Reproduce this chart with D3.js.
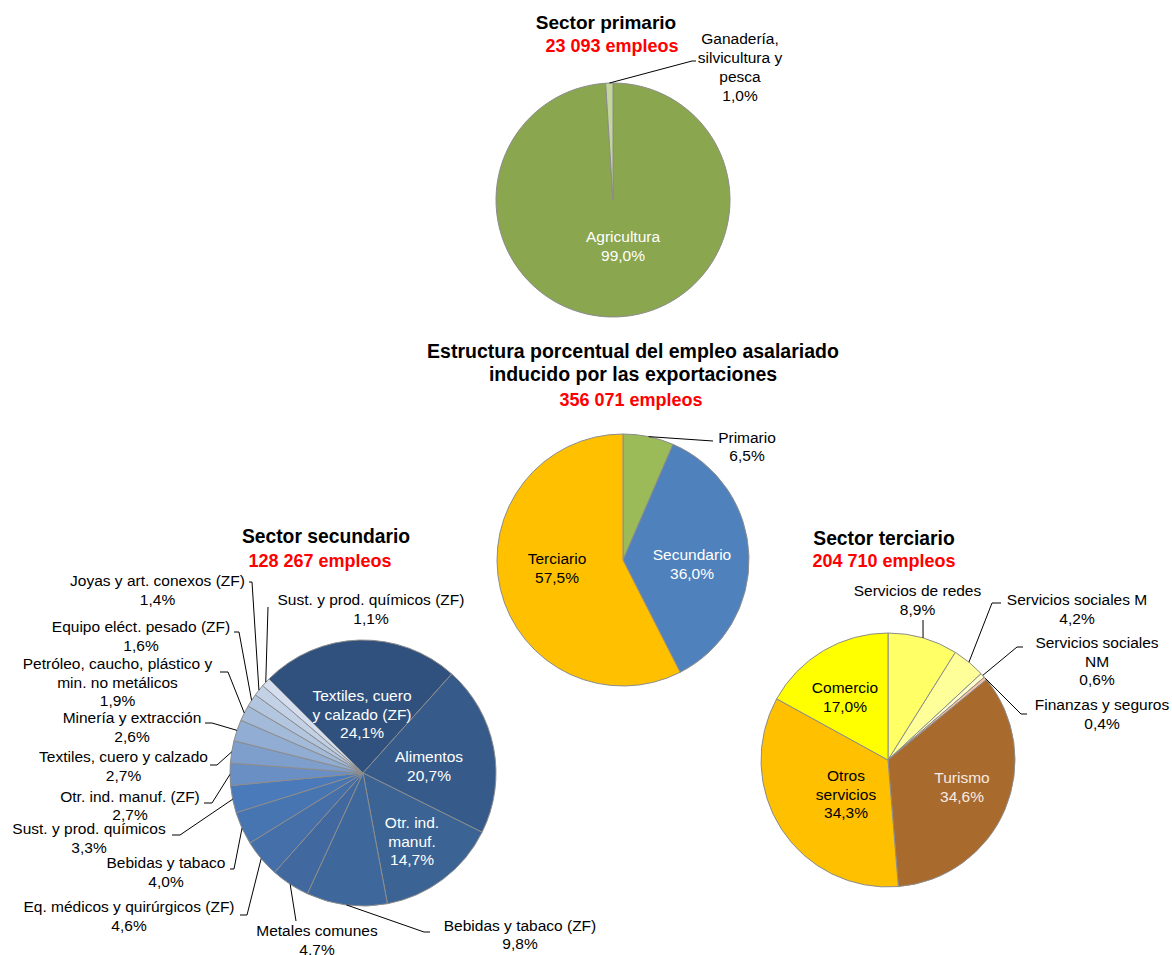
<!DOCTYPE html>
<html><head><meta charset="utf-8">
<script src="https://cdn.jsdelivr.net/npm/d3@7"></script>
<style>
body{margin:0;background:#fff}
svg{display:block}
text{font-family:"Liberation Sans",Arial,sans-serif}
</style>
</head><body>
<svg id="chart" width="1172" height="955"></svg>
<script>
// ---------------- DATA ----------------
const primaryCategories = ["Agricultura", "Ganadería, silvicultura y pesca"];
const primaryValues = [99.0, 1.0];
const primaryLabelLines = [["Agricultura"], ["Ganadería,", "silvicultura  y", "pesca"]];

const totalCategories = ["Primario", "Secundario", "Terciario"];
const totalValues = [6.5, 36.0, 57.5];
const totalLabelLines = [["Primario"], ["Secundario"], ["Terciario"]];

const secondaryCategories = [
  "Textiles, cuero y calzado (ZF)", "Alimentos", "Otr. ind. manuf.", "Bebidas y tabaco (ZF)",
  "Metales comunes", "Eq. médicos y quirúrgicos (ZF)", "Bebidas y tabaco", "Sust. y prod. químicos",
  "Otr. ind. manuf. (ZF)", "Textiles, cuero y calzado", "Minería y extracción",
  "Petróleo, caucho, plástico y min. no metálicos", "Equipo eléct. pesado (ZF)",
  "Joyas y art. conexos (ZF)", "Sust. y prod. químicos (ZF)"];
const secondaryValues = [24.1, 20.7, 14.7, 9.8, 4.7, 4.6, 4.0, 3.3, 2.7, 2.7, 2.6, 1.9, 1.6, 1.4, 1.1];
const secondaryLabelLines = [
  ["Textiles, cuero", "y calzado (ZF)"], ["Alimentos"], ["Otr. ind.", "manuf."], ["Bebidas  y tabaco (ZF)"],
  ["Metales comunes"], ["Eq. médicos y quirúrgicos  (ZF)"], ["Bebidas  y tabaco"], ["Sust. y prod.  químicos"],
  ["Otr. ind. manuf.  (ZF)"], ["Textiles, cuero y calzado"], ["Minería  y extracción"],
  ["Petróleo, caucho, plástico y", "min. no metálicos"], ["Equipo eléct. pesado (ZF)"],
  ["Joyas  y art. conexos (ZF)"], ["Sust. y prod.  químicos  (ZF)"]];

const tertiaryCategories = ["Servicios de redes", "Servicios sociales M", "Servicios sociales NM",
  "Finanzas y seguros", "Turismo", "Otros servicios", "Comercio"];
const tertiaryValues = [8.9, 4.2, 0.6, 0.4, 34.6, 34.3, 17.0];
const tertiaryLabelLines = [["Servicios  de redes"], ["Servicios  sociales M"], ["Servicios  sociales", "NM"],
  ["Finanzas  y seguros"], ["Turismo"], ["Otros", "servicios"], ["Comercio"]];

const titleTexts = {
  primary: ["Sector primario"], primaryTotal: "23 093 empleos",
  total: ["Estructura porcentual del empleo asalariado", "inducido por las exportaciones"], totalTotal: "356 071 empleos",
  secondary: ["Sector secundario"], secondaryTotal: "128 267 empleos",
  tertiary: ["Sector terciario"], tertiaryTotal: "204 710 empleos"
};

// ---------------- LAYOUT / STYLE ----------------
const svg = d3.select("#chart");
const LABEL_FONT = 15.5;
const fmt = v => v.toFixed(1).replace(".", ",") + "%";

const pies = [
  {
    values: primaryValues, lines: primaryLabelLines, cx: 613, cy: 200, r: 117, start: 0, lh: 19,
    colors: ["#8AA64F", "#C3D69B"],
    labels: [
      {x: 623, y: 242, fill: "#FFFFFF"},
      {x: 740, y: 43.5, fill: "#000", leader: [[696, 61], [692, 61]]}
    ]
  },
  {
    values: totalValues, lines: totalLabelLines, cx: 623, cy: 560, r: 126, start: 0, lh: 18.5,
    colors: ["#9BBB59", "#4F81BD", "#FFC000"],
    labels: [
      {x: 747, y: 442.5, fill: "#000", leader: [[713, 441]]},
      {x: 692, y: 560, fill: "#FFFFFF"},
      {x: 557, y: 564, fill: "#000"}
    ]
  },
  {
    values: secondaryValues, lines: secondaryLabelLines, cx: 363, cy: 773, r: 133, start: -Math.PI / 4, lh: 18.5,
    colors: ["#30517D", "#365B8A", "#3B6394", "#3E679B", "#4169A0", "#446FA9", "#4775B2", "#4A7ABA",
             "#6A8FC5", "#7E9ECB", "#91ADD3", "#A3BAD9", "#B3C6E0", "#C3D1E7", "#D4DEEE"],
    labels: [
      {x: 362, y: 701, fill: "#FFFFFF"},
      {x: 429, y: 762, fill: "#FFFFFF"},
      {x: 412, y: 828, fill: "#FFFFFF"},
      {x: 520, y: 931, fill: "#000", lh: 17.5, leader: [[430, 932], [424, 932]]},
      {x: 317, y: 936, fill: "#000", leader: [[296, 921]]},
      {x: 129, y: 912, fill: "#000", lh: 18.5, leader: [[240, 915], [247, 915]]},
      {x: 166, y: 868, fill: "#000", leader: [[230, 869], [234, 869]]},
      {x: 89, y: 834, fill: "#000", leader: [[172, 835], [180, 835]]},
      {x: 130, y: 802, fill: "#000", lh: 18, leader: [[204, 803], [212, 803]]},
      {x: 123.5, y: 762, fill: "#000", leader: [[210, 765], [217, 765]]},
      {x: 132, y: 723, fill: "#000", leader: [[205, 723], [212, 723]]},
      {x: 117.5, y: 669, fill: "#000", leader: [[220, 672], [228, 672]]},
      {x: 141, y: 632, fill: "#000", leader: [[234, 632], [239, 632]]},
      {x: 157.5, y: 586, fill: "#000", leader: [[249, 582], [252, 582]]},
      {x: 371, y: 605, fill: "#000", leader: [[268, 607]]}
    ]
  },
  {
    values: tertiaryValues, lines: tertiaryLabelLines, cx: 888, cy: 760, r: 127, start: 0, lh: 18.5,
    colors: ["#FFFF66", "#FFFF99", "#FFFFCC", "#F6C3AA", "#A96A2E", "#FFC000", "#FFFF00"],
    labels: [
      {x: 917.5, y: 596, fill: "#000", leader: [[923, 620]]},
      {x: 1077, y: 605, fill: "#000", leader: [[1001, 603], [992, 603]]},
      {x: 1097, y: 648, fill: "#000", leader: [[1023, 647], [1017, 647]]},
      {x: 1102, y: 710, fill: "#000", leader: [[1027, 714], [1021, 714]]},
      {x: 962, y: 783, fill: "#F7EAE2"},
      {x: 846, y: 781, fill: "#000"},
      {x: 845, y: 693, fill: "#000"}
    ]
  }
];

pies.forEach(p => {
  const g = svg.append("g");
  const pie = d3.pie().sort(null).startAngle(p.start).endAngle(p.start + 2 * Math.PI);
  const arcs = pie(p.values);
  const arc = d3.arc().innerRadius(0).outerRadius(p.r);
  const edge = d3.arc().innerRadius(p.r).outerRadius(p.r);
  const pg = g.append("g").attr("transform", `translate(${p.cx},${p.cy})`);
  pg.selectAll("path").data(arcs).enter().append("path")
    .attr("d", arc)
    .attr("fill", (d, i) => p.colors[i])
    .attr("stroke", "#8C8C8C")
    .attr("stroke-width", 1)
    .attr("stroke-linejoin", "round");

  arcs.forEach((d, i) => {
    const L = p.labels[i];
    if (L.leader) {
      const c = edge.centroid(d);
      const pts = L.leader.concat([[p.cx + c[0], p.cy + c[1]]]);
      g.append("path")
        .attr("d", d3.line()(pts))
        .attr("fill", "none").attr("stroke", "#000").attr("stroke-width", 1);
    }
    const lines = p.lines[i].concat([fmt(p.values[i])]);
    const lh = L.lh || p.lh;
    const t = g.append("text")
      .attr("text-anchor", "middle")
      .attr("font-size", LABEL_FONT)
      .attr("fill", L.fill);
    lines.forEach((s, k) => {
      t.append("tspan").attr("x", L.x).attr("y", L.y + k * lh).text(s);
    });
  });
});

// ---------------- TITLES ----------------
function title(lines, x, y, lh, size, fill) {
  const t = svg.append("text").attr("text-anchor", "middle").attr("font-weight", "bold")
    .attr("font-size", size).attr("fill", fill);
  lines.forEach((s, k) => t.append("tspan").attr("x", x).attr("y", y + k * lh).text(s));
}
title(titleTexts.primary, 606, 29, 0, 19, "#000");
title([titleTexts.primaryTotal], 612, 51.5, 0, 18, "#FF0000");
title(titleTexts.total, 633, 358, 23, 19.5, "#000");
title([titleTexts.totalTotal], 631, 406, 0, 18, "#FF0000");
title(titleTexts.secondary, 326, 543, 0, 19.3, "#000");
title([titleTexts.secondaryTotal], 320, 567, 0, 18, "#FF0000");
title(titleTexts.tertiary, 884, 545, 0, 19.3, "#000");
title([titleTexts.tertiaryTotal], 884, 567, 0, 18, "#FF0000");
</script>
</body></html>
